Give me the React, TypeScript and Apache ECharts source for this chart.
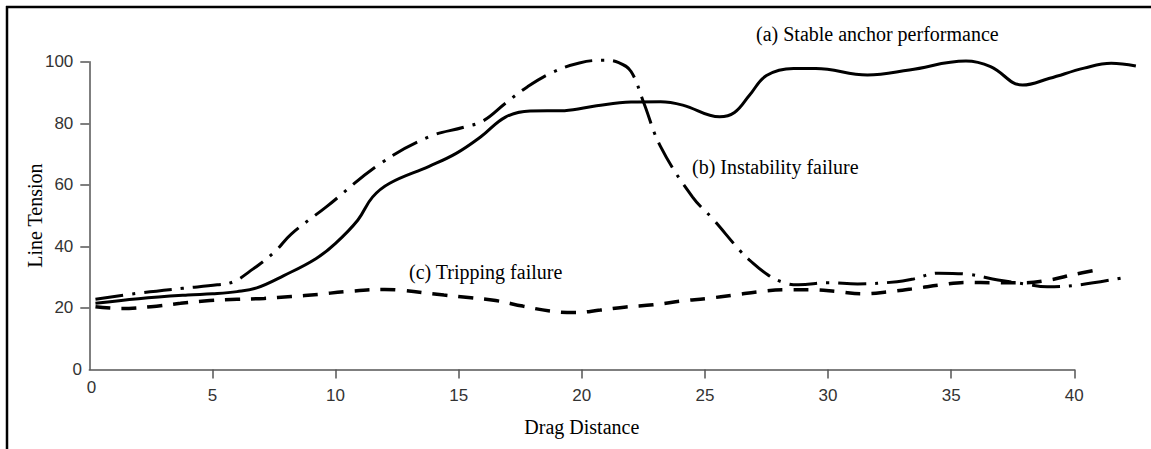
import React, { useEffect, useRef } from "react";
import * as echarts from "echarts";

const xTicks = [0, 5, 10, 15, 20, 25, 30, 35, 40];
const yTicks = [0, 20, 40, 60, 80, 100];

// (a) Stable anchor performance (solid)
const stableData: [number, number][] = [
  [0.25, 21.5], [2, 23], [4, 24.2], [5, 24.6], [6, 25.3], [6.8, 26.5], [7.9, 30.5],
  [9.2, 36], [10, 41], [10.9, 48.5], [11.5, 56], [12.2, 60.5], [13.8, 66], [14.9, 70.2],
  [15.9, 75.6], [16.9, 82], [17.9, 84], [19.3, 84.1], [20.6, 85.7], [22, 86.9], [23.2, 87],
  [24.1, 85.9], [25.6, 82.1], [26.2, 83.5], [26.8, 89], [27.5, 95.5], [28.6, 97.8],
  [29.5, 97.8], [31.6, 95.7], [33.3, 97.3], [35.6, 100.2], [36.6, 98.4], [37.9, 92.4],
  [39, 94.6], [40.4, 97.9], [41.5, 99.5], [42.5, 98.6],
];

// (b) Instability failure (dash-dot)
const instabilityData: [number, number][] = [
  [0.25, 22.8], [2, 24.8], [3.8, 26.4], [5.2, 27.5], [5.85, 28.5], [6.5, 31.8], [7.5, 38],
  [8.2, 44], [9.65, 53], [11.8, 66.8], [13.8, 75.6], [15.2, 78.7], [16, 80.8], [16.9, 86.5],
  [17.8, 91.9], [18.8, 96.5], [19.9, 99.6], [20.9, 100.5], [21.5, 99.7], [22, 96.8],
  [22.5, 87], [23.2, 72.4], [24.5, 56], [25.3, 49.1], [26.4, 38.8], [26.8, 35.6],
  [27.6, 30.5], [28.3, 28], [28.8, 27.5], [30, 28.2], [31.2, 27.8], [32.8, 28.5],
  [33.4, 29.3], [34.5, 31.3], [35.7, 30.9], [36.9, 29.1], [38, 27.8], [38.9, 26.9],
  [40.2, 27.5], [41.9, 29.7],
];

// (c) Tripping failure (dashed)
const trippingData: [number, number][] = [
  [0.25, 20.4], [1.3, 19.8], [2.5, 20.4], [3.7, 21.5], [4.9, 22.4], [6, 22.8], [7.1, 23.1],
  [8.2, 23.7], [9.3, 24.4], [10.4, 25.3], [12, 26], [12.6, 25.8], [14.4, 24.2], [15.5, 23.3],
  [16.5, 22.4], [17.6, 20.6], [18.7, 19], [19.7, 18.5], [20.75, 19.3], [21.8, 20.3],
  [22.9, 21], [24, 22.2], [25.1, 23.1], [26.2, 24.2], [27.2, 25.3], [28.3, 25.9],
  [29.3, 25.9], [30.4, 25.3], [31.4, 24.6], [32.5, 25.3], [33.6, 26.4], [34.6, 27.5],
  [35.6, 28.3], [36.8, 28.2], [37.9, 28.2], [39, 29.1], [40, 30.9], [41, 32.5],
];

const annotations = [
  { text: "(a) Stable anchor performance", x: 756, y: 34 },
  { text: "(b) Instability failure", x: 692, y: 167 },
  { text: "(c) Tripping failure", x: 409, y: 272 },
];

const serif = "'Liberation Serif', 'Times New Roman', serif";
const sans = "'Liberation Sans', Arial, sans-serif";
const axisColor = "#555";

// layout (pixels)
const W = 1151;
const H = 449;
const gridLeft = 89.3;
const gridRight = 76.7;
const gridTop = 61.7;
const gridBottom = 79.5;
// data extent of the plotting layer (curves run past the last axis tick)
const dataXMax = 43;
const dataYMax = 105;

export default function App() {
  const ref = useRef<HTMLDivElement>(null);
  useEffect(() => {
    document.body.style.margin = "0";
    const chart = echarts.init(ref.current!, null, { renderer: "svg" });
    const xMax = xTicks[xTicks.length - 1];
    const yMax = yTicks[yTicks.length - 1];
    const pxPerX = (W - gridLeft - gridRight) / xMax;
    const pxPerY = (H - gridTop - gridBottom) / yMax;
    const dataGrid = {
      left: gridLeft,
      width: dataXMax * pxPerX,
      top: gridTop - (dataYMax - yMax) * pxPerY,
      height: dataYMax * pxPerY,
    };
    const lineSeries = (name: string, data: [number, number][], type: any, width = 3) => ({
      name,
      type: "line",
      xAxisIndex: 1,
      yAxisIndex: 1,
      data,
      smooth: 0.4,
      showSymbol: false,
      symbol: "none",
      clip: false,
      lineStyle: { color: "#000", width, type, cap: "butt" },
    });
    chart.setOption({
      animation: false,
      backgroundColor: "#fff",
      grid: [
        { left: gridLeft, right: gridRight, top: gridTop, bottom: gridBottom, containLabel: false },
        { ...dataGrid, containLabel: false },
      ],
      xAxis: [
        {
          type: "value",
          gridIndex: 0,
          min: xTicks[0],
          max: xMax,
          interval: 5,
          name: "Drag Distance",
          nameLocation: "middle",
          nameGap: 47,
          nameTextStyle: { fontFamily: serif, fontSize: 20, color: "#000" },
          axisLine: { onZero: false, lineStyle: { color: axisColor, width: 1.5 } },
          axisTick: { length: 9, lineStyle: { color: axisColor, width: 1.5 } },
          axisLabel: { showMinLabel: false, margin: 17, fontFamily: sans, fontSize: 17, color: "#333" },
          splitLine: { show: false },
        },
        {
          type: "value",
          gridIndex: 1,
          min: 0,
          max: dataXMax,
          show: false,
        },
      ],
      yAxis: [
        {
          type: "value",
          gridIndex: 0,
          min: yTicks[0],
          max: yMax,
          interval: 20,
          name: "Line Tension",
          nameLocation: "middle",
          nameRotate: 90,
          nameGap: 44,
          nameMoveOverlap: false,
          nameTextStyle: { fontFamily: serif, fontSize: 20, color: "#000" },
          axisLine: { show: true, lineStyle: { color: axisColor, width: 1.5 } },
          axisTick: { show: true, length: 9, lineStyle: { color: axisColor, width: 1.5 } },
          axisLabel: { showMinLabel: false, margin: 16, fontFamily: sans, fontSize: 17, color: "#333" },
          splitLine: { show: false },
        },
        {
          type: "value",
          gridIndex: 1,
          min: 0,
          max: dataYMax,
          show: false,
        },
      ],
      series: [
        lineSeries("(a) Stable anchor performance", stableData, "solid", 3),
        lineSeries("(b) Instability failure", instabilityData, [28, 9, 3, 9], 3),
        lineSeries("(c) Tripping failure", trippingData, [15, 11], 3.5),
      ],
      graphic: [
        { type: "line", shape: { x1: 7, y1: 6, x2: 7, y2: H }, style: { stroke: "#000", lineWidth: 2.5 } },
        { type: "line", shape: { x1: 6, y1: 7, x2: W, y2: 7 }, style: { stroke: "#000", lineWidth: 2.5 } },
        { type: "text", x: 82, y: 369, style: { text: "0", fontFamily: sans, fontSize: 17, fill: "#333", textAlign: "right", textVerticalAlign: "middle" } },
        { type: "text", x: 91.5, y: 387, style: { text: "0", fontFamily: sans, fontSize: 17, fill: "#333", textAlign: "center", textVerticalAlign: "middle" } },
        ...annotations.map((a) => ({
          type: "text",
          x: a.x,
          y: a.y,
          style: { text: a.text, fontFamily: serif, fontSize: 20, fill: "#000", textAlign: "left", textVerticalAlign: "middle" },
        })),
      ],
    });
    return () => chart.dispose();
  }, []);
  return <div ref={ref} style={{ width: W, height: H }} />;
}
